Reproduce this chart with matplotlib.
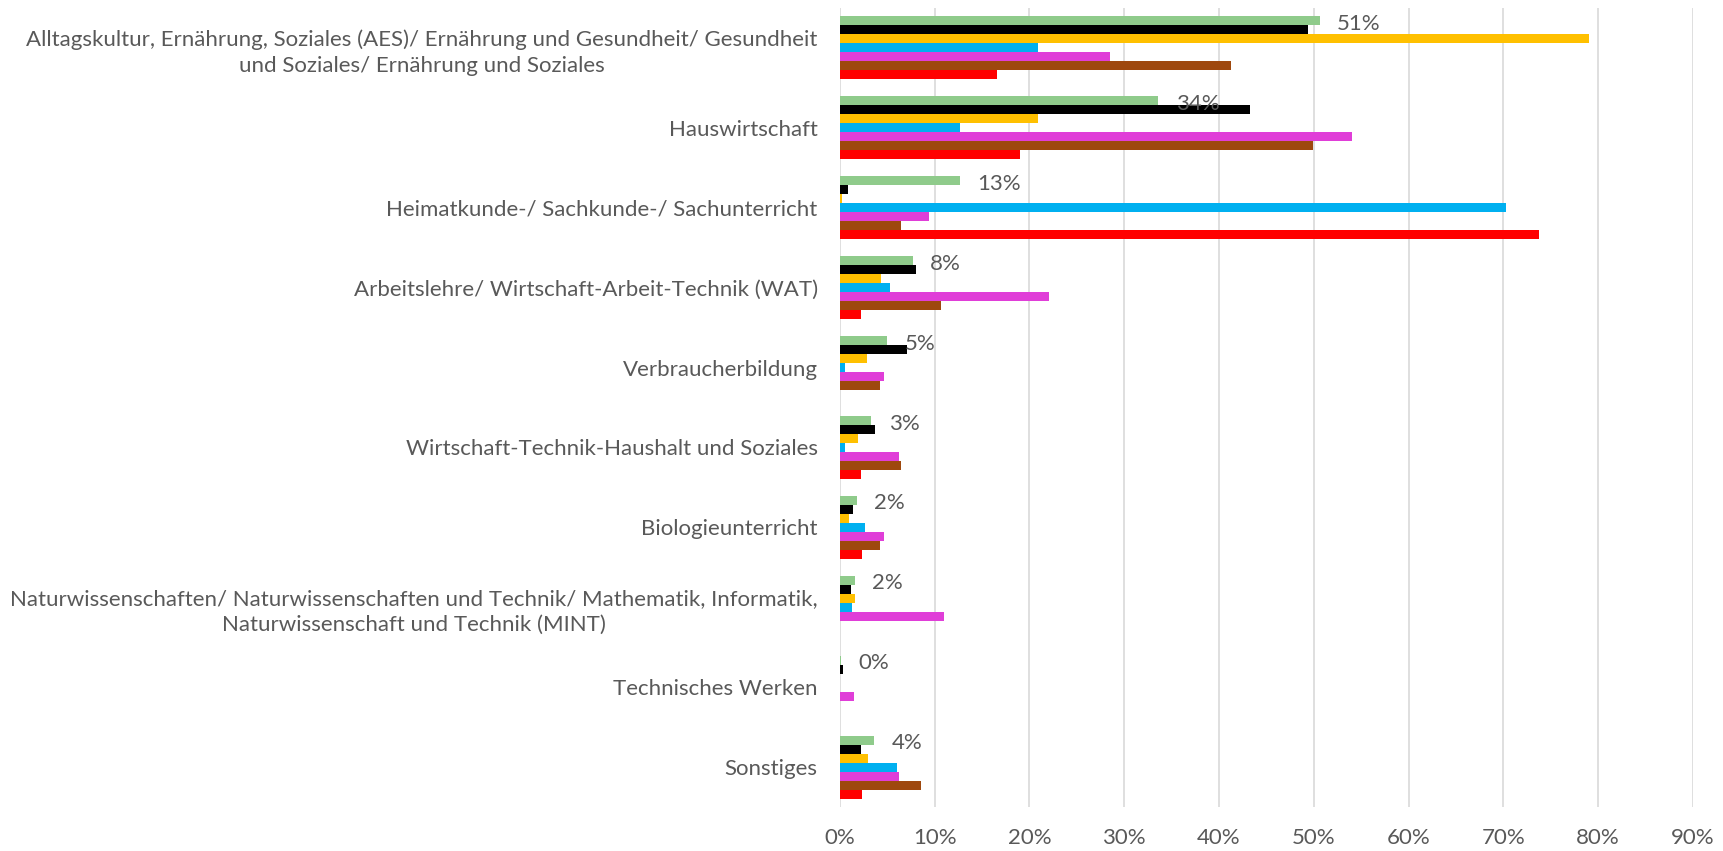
import numpy as np
import matplotlib
matplotlib.use("Agg")
import matplotlib.pyplot as plt

plt.rcParams['font.family'] = ['Lato', 'DejaVu Sans']

kategorien = [
    "Alltagskultur, Ernährung, Soziales (AES)/ Ernährung und Gesundheit/ Gesundheit\nund Soziales/ Ernährung und Soziales",
    "Hauswirtschaft",
    "Heimatkunde-/ Sachkunde-/ Sachunterricht",
    "Arbeitslehre/ Wirtschaft-Arbeit-Technik (WAT)",
    "Verbraucherbildung",
    "Wirtschaft-Technik-Haushalt und Soziales",
    "Biologieunterricht",
    "Naturwissenschaften/ Naturwissenschaften und Technik/ Mathematik, Informatik,\nNaturwissenschaft und Technik (MINT)",
    "Technisches Werken",
    "Sonstiges",
]

# Werte in Prozent, je Reihe (von oben nach unten innerhalb einer Gruppe)
gruen   = [50.6, 33.6, 12.7, 7.7, 5.0, 3.3, 1.8, 1.6, 0.1, 3.6]
schwarz = [49.4, 43.3, 0.9, 8.0, 7.1, 3.7, 1.4, 1.2, 0.3, 2.2]
gelb    = [79.0, 20.9, 0.2, 4.3, 2.9, 1.9, 1.0, 1.6, 0.0, 3.0]
blau    = [20.9, 12.7, 70.3, 5.3, 0.5, 0.5, 2.6, 1.3, 0.0, 6.0]
magenta = [28.5, 54.0, 9.4, 22.1, 4.6, 6.2, 4.7, 11.0, 1.5, 6.2]
braun   = [41.3, 49.9, 6.4, 10.7, 4.2, 6.4, 4.2, 0.0, 0.0, 8.6]
rot     = [16.6, 19.0, 73.8, 2.2, 0.0, 2.2, 2.3, 0.0, 0.0, 2.3]

reihen = [gruen, schwarz, gelb, blau, magenta, braun, rot]
farben = ['#8FCB8B', '#000000', '#FFC000', '#00B0F0', '#E03ED8', '#9E480E', '#FF0000']

grau = '#595959'
fig = plt.figure(figsize=(17.24, 8.51), dpi=100)
ax = fig.add_axes([0.4872, 0.0517, 0.4948, 0.9389])

y = np.arange(len(kategorien))
h = 0.1125
for j, (werte, farbe) in enumerate(zip(reihen, farben)):
    ax.barh(y + (j - 3) * h, werte, height=h, color=farbe, zorder=2)

# Datenbeschriftungen an der grünen Reihe
for i, v in enumerate(gruen):
    ax.annotate(f"{v:.0f}%", xy=(v, y[i] - 3 * h), xytext=(12.5, -2.2),
                textcoords='offset points', ha='left', va='center',
                fontsize=16, color=grau, zorder=4)

ax.set_xlim(0, 90)
ax.set_ylim(len(kategorien) - 0.5, -0.5)
ax.set_xticks(np.arange(0, 91, 10))
ax.set_xticklabels([f"{t}%" for t in range(0, 91, 10)])
ax.set_yticks(y)
ax.set_yticklabels(kategorien, multialignment='center', linespacing=1.35)
ax.grid(axis='x', color='#D9D9D9', linewidth=1.2, zorder=0)
ax.set_axisbelow(True)
for s in ax.spines.values():
    s.set_visible(False)
ax.tick_params(axis='both', length=0, labelsize=16, labelcolor=grau)
ax.tick_params(axis='y', pad=16)
ax.tick_params(axis='x', pad=15)

fig.savefig("out.png", dpi=100)
